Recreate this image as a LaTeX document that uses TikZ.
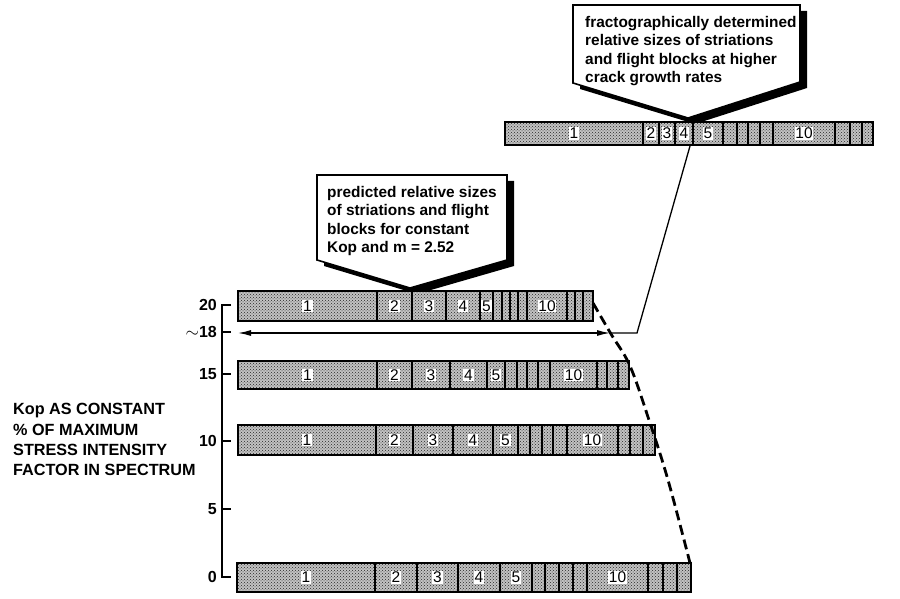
\documentclass[tikz,border=0pt]{standalone}
\usepackage{fontspec}
\setmainfont{Liberation Sans}
\usetikzlibrary{patterns,arrows.meta}

\tikzset{
  stipple/.style={preaction={fill=black!24},pattern=crosshatch dots,pattern color=black!85},
  barframe/.style={line width=2pt},
  divider/.style={line width=2.2pt},
  digit/.style={fill=white,inner sep=0.8pt,font=\fontsize{15.5}{18}\selectfont},
  ticklabel/.style={anchor=east,inner sep=0pt,font=\fontsize{16}{19}\selectfont\bfseries},
  callout/.style={fill=white,draw,line width=1.6pt,line join=miter},
  calloutshadow/.style={fill=black},
  calltext/.style={anchor=north west,inner sep=0pt,align=left,font=\fontsize{15.4}{18.6}\selectfont\bfseries},
  >={Latex[length=13pt,width=6pt]},
}

\begin{document}
\begin{tikzpicture}[x=1pt,y=-1pt]
	\useasboundingbox (0,0) rectangle (900,599);

	% callouts (shadow first)
	\fill[calloutshadow] (580,11) -- (807,11) -- (807,88) -- (695,124) -- (580,89) -- cycle;
	\draw[callout] (573,5) -- (800,5) -- (800,82) -- (688,118) -- (573,83) -- cycle;
	\node[calltext] (fracto) at (585,15.7) {fractographically determined\\relative sizes of striations\\and flight blocks at higher\\crack growth rates};

	\fill[calloutshadow] (324,181) -- (514,181) -- (514,266) -- (417,294) -- (324,266) -- cycle;
	\draw[callout] (317,175) -- (507,175) -- (507,260) -- (410,288) -- (317,260) -- cycle;
	\node[calltext] (predict) at (327,185.8) {predicted relative sizes\\of striations and flight\\blocks for constant\\Kop and m = 2.52};

	% measured bar (top)
	\fill[stipple] (505,122) rectangle (873,145);
	\foreach \x/\t in {574/1,651/2,667/3,684/4,708/5,804/10}
		\node[digit] (top\t) at (\x,133.5) {\t};
	\foreach \x in {643,659,675,693,723,737,748,760,773,835,850,862}
		\draw[divider] (\x,122) -- (\x,145);
	\draw[barframe] (505,122) rectangle (873,145);

	% predicted bars
	\fill[stipple] (238,291) rectangle (593,321);
	\foreach \x/\t in {307.5/1,394.5/2,429/3,463/4,486.5/5,547/10}
		\node[digit] (k20n\t) at (\x,306) {\t};
	\foreach \x in {377,412,446,480,493,502,510,518,527,567,575,583}
		\draw[divider] (\x,291) -- (\x,321);
	\draw[barframe] (238,291) rectangle (593,321);

	\fill[stipple] (238,361) rectangle (629,389);
	\foreach \x/\t in {307.5/1,394.5/2,431/3,468.5/4,496/5,573.5/10}
		\node[digit] (k15n\t) at (\x,375) {\t};
	\foreach \x in {377,412,450,487,505,517,527,538,550,597,607,618}
		\draw[divider] (\x,361) -- (\x,389);
	\draw[barframe] (238,361) rectangle (629,389);

	\fill[stipple] (238,425) rectangle (655,455);
	\foreach \x/\t in {307/1,394.5/2,433/3,473/4,505.5/5,592.5/10}
		\node[digit] (k10n\t) at (\x,440) {\t};
	\foreach \x in {376,413,453,493,518,530,542,553,567,618,630,643}
		\draw[divider] (\x,425) -- (\x,455);
	\draw[barframe] (238,425) rectangle (655,455);

	\fill[stipple] (237,563) rectangle (691,592);
	\foreach \x/\t in {306/1,396/2,437.5/3,479/4,516/5,617.5/10}
		\node[digit] (k0n\t) at (\x,577.5) {\t};
	\foreach \x in {375,417,458,500,532,545,559,573,587,648,663,677}
		\draw[divider] (\x,563) -- (\x,592);
	\draw[barframe] (237,563) rectangle (691,592);

	% Kop axis
	\draw[line width=1.5pt] (231,305) -- (222,305) -- (222,577) -- (231,577);
	\foreach \y in {332,374,441,509}
		\draw[line width=1.5pt] (222,\y) -- (231,\y);
	\node[ticklabel] (t20) at (217,305) {20};
	\node[ticklabel] (t18) at (217,332) {$\sim$18};
	\node[ticklabel] (t15) at (217,374) {15};
	\node[ticklabel] (t10) at (217,441) {10};
	\node[ticklabel] (t5) at (217,509) {5};
	\node[ticklabel] (t0) at (217,577) {0};

	\node[anchor=north west,inner sep=0pt,align=left,font=\fontsize{16.2}{20.3}\selectfont\bfseries] (kop) at (13,403.4)
		{Kop AS CONSTANT\\\% OF MAXIMUM\\STRESS INTENSITY\\FACTOR IN SPECTRUM};

	% arrow at ~18 and link to measured bar
	\coordinate (arrL) at (238,333);
	\coordinate (arrR) at (610,333);
	\coordinate (kink) at (637,333);
	\coordinate (topfoot) at (690,146);
	\draw[line width=1.3pt,<->] (arrL) -- (arrR);
	\draw[line width=1.3pt] (arrR) -- (kink) -- (topfoot);

	% bar ends
	\draw[line width=2.8pt,dash pattern=on 10pt off 5pt] plot[smooth,tension=0.6] coordinates {(593,303) (611,334) (630,366) (649,420) (668,480) (690,563)};
\end{tikzpicture}
\end{document}
